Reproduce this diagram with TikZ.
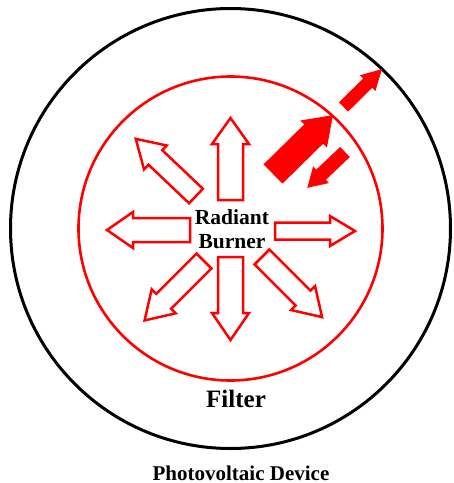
\documentclass[tikz,border=0pt]{standalone}
\usepackage{fontspec}
\setmainfont{Liberation Serif}
\definecolor{fred}{RGB}{255,0,0}
\newcommand{\barrow}[8]{%
  \path[#1,shift={(#2,#3)},rotate=#4] (0,-#6) -- ({#5-#8},-#6) -- ({#5-#8},-#7) -- (#5,0) -- ({#5-#8},#7) -- ({#5-#8},#6) -- (0,#6) -- cycle;}
\begin{document}
\begin{tikzpicture}[x=1pt,y=-1pt,
  outarrow/.style={draw=fred,fill=white,line width=2.5pt,line join=miter},
  solidarrow/.style={fill=fred},
  lbl/.style={font=\bfseries,inner sep=0pt,text=black}]
\useasboundingbox (0,0) rectangle (454,483);
% circles
\draw[line width=3pt,black] (230.5,228.5) circle[radius=220];
\draw[line width=2.6pt,fred] (230.5,228.5) circle[radius=152];
% outlined arrows
\barrow{outarrow}{230.5}{200}{90}{82}{12.5}{18.5}{26}
\barrow{outarrow}{230.5}{257}{-90}{83}{12.5}{18.5}{27}
\barrow{outarrow}{275}{231}{0}{80}{8.5}{15}{25}
\barrow{outarrow}{190}{230}{180}{83}{12}{18}{26}
\barrow{outarrow}{196}{196}{136.5}{83}{10}{16.5}{27}
\barrow{outarrow}{204}{261}{225}{84}{10.5}{17}{27}
\barrow{outarrow}{262}{257}{-45}{85}{10.5}{17}{27}
% solid arrows
\barrow{solidarrow}{273}{174}{44.5}{84}{13.5}{19}{27}
\barrow{solidarrow}{343.5}{107}{44.6}{54}{6.5}{11}{20}
\barrow{solidarrow}{345}{152}{223.5}{52}{7}{11.5}{19}
% labels
\node[lbl,align=center,font=\bfseries\fontsize{21.5}{24}\selectfont] (burner) at (232,229) {Radiant\\Burner};
\node[lbl,anchor=base,font=\bfseries\fontsize{25}{28}\selectfont] (filter) at (236,407) {Filter};
\node[lbl,anchor=base,font=\bfseries\fontsize{21}{24}\selectfont] (pv) at (241,480) {Photovoltaic Device};
\end{tikzpicture}
\end{document}
